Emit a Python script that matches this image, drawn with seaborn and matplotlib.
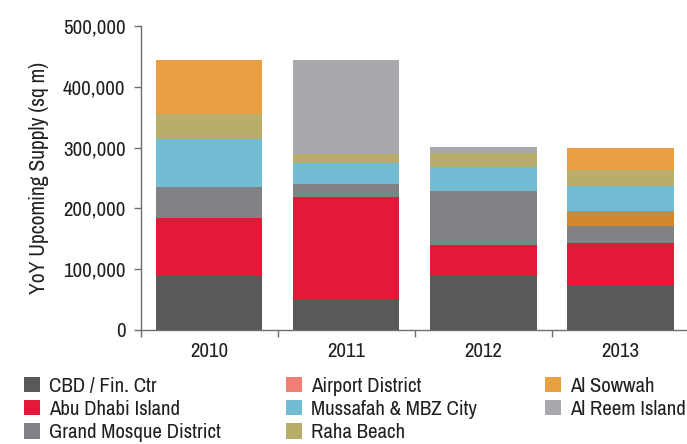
import matplotlib
matplotlib.use('Agg')
import matplotlib.pyplot as plt
from matplotlib.patches import Patch
from matplotlib.ticker import FuncFormatter, FixedLocator
import seaborn as sns

# Data (thousand sq m)
years = ['2010', '2011', '2012', '2013']
cbd = [89, 50, 89, 74]
abu_dhabi = [96, 168, 50, 69]
grand_mosque = [51, 22, 89, 28]
airport = [0, 0, 0, 24]
mussafah = [78, 35, 40, 42]
raha = [42, 15, 23, 27]
sowwah = [88, 0, 0, 35]
reem = [0, 154, 10, 0]

names = ['CBD / Fin. Ctr', 'Abu Dhabi Island', 'Grand Mosque District', 'Airport District',
         'Mussafah & MBZ City', 'Raha Beach', 'Al Sowwah', 'Al Reem Island']
series = [cbd, abu_dhabi, grand_mosque, airport, mussafah, raha, sowwah, reem]
colors = ['#58595b', '#e31937', '#808285', '#ef7f72', '#72bcd4', '#b8ad6a', '#e9a043', '#a8a9ad']
# 2013 airport segment is drawn in a darker orange in the reference
airport_bar_colors = ['#ef7f72', '#ef7f72', '#ef7f72', '#d2892b']

sns.set_style('white')
plt.rcParams['font.family'] = ['Archivo Narrow', 'PT Sans Narrow', 'DejaVu Sans']

fig = plt.figure(figsize=(6.87, 4.44), dpi=100)
ax = fig.add_axes([0.205, 0.257, 0.798, 0.684])

bottom = [0] * len(years)
for name, vals, col in zip(names, series, colors):
    v = [x * 1000 for x in vals]
    if name == 'Airport District':
        sns.barplot(x=years, y=v, hue=years, palette=airport_bar_colors, legend=False,
                    bottom=bottom, width=0.774, ax=ax, linewidth=0, saturation=1)
    else:
        sns.barplot(x=years, y=v, color=col, bottom=bottom, width=0.774, ax=ax,
                    linewidth=0, saturation=1)
    bottom = [b + x for b, x in zip(bottom, v)]

ax.set_xlim(-0.5, 3.5)
ax.set_ylim(0, 500000)
ax.set_yticks(range(0, 500001, 100000))
ax.yaxis.set_major_formatter(FuncFormatter(lambda v, p: f'{int(v):,}'))
ax.set_ylabel('YoY Upcoming Supply (sq m)', fontsize=15.5, color='#231f20', labelpad=10)
ax.set_xlabel('')

for s in ['top', 'right']:
    ax.spines[s].set_visible(False)
for s in ['left', 'bottom']:
    ax.spines[s].set_color('#6d6e71')
    ax.spines[s].set_linewidth(1.0)

ax.tick_params(axis='y', which='major', left=True, length=5, width=1, color='#6d6e71',
               labelsize=15, labelcolor='#231f20', pad=6)
ax.tick_params(axis='x', which='major', bottom=False, labelsize=15, labelcolor='#231f20', pad=5)
ax.xaxis.set_minor_locator(FixedLocator([-0.5, 0.5, 1.5, 2.5, 3.5]))
ax.tick_params(axis='x', which='minor', bottom=True, length=5, width=1, color='#6d6e71')

handles = [Patch(facecolor=c, edgecolor='none') for c in colors]
cols = [(0, 3, 0.035), (3, 6, 0.416), (6, 8, 0.793)]
for a, b, x in cols:
    leg = fig.legend(handles[a:b], names[a:b], loc='upper left', bbox_to_anchor=(x, 0.152),
                     frameon=False, fontsize=15, handlelength=0.78, handleheight=0.78,
                     handletextpad=0.42, labelspacing=0.2, borderaxespad=0, borderpad=0)
    for t in leg.get_texts():
        t.set_color('#231f20')

fig.savefig('out.png', dpi=100)
